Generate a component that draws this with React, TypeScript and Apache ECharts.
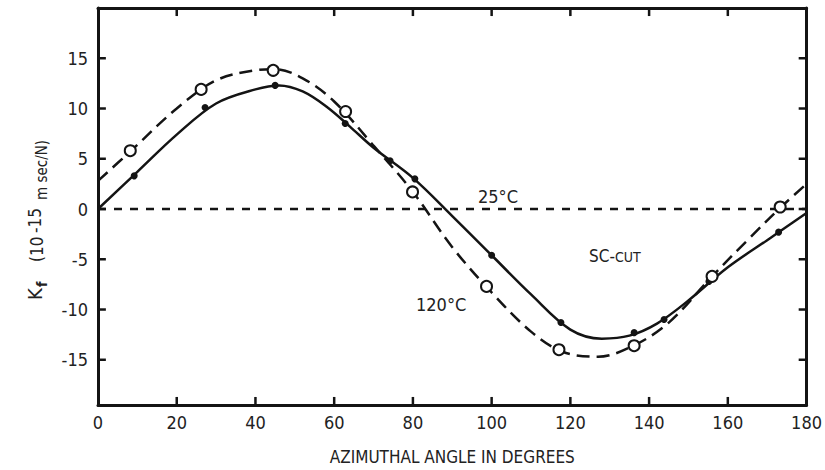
import React, { useEffect, useRef } from "react";
import * as echarts from "echarts";

// Axis ranges and ticks
const X_MIN = 0;
const X_MAX = 180;
const Y_MIN = -19.5;
const Y_MAX = 20;
const xTickValues = [0, 20, 40, 60, 80, 100, 120, 140, 160, 180];
const yTickValues = [-15, -10, -5, 0, 5, 10, 15];

// 25°C curve (solid)
const curveAngle25 = [0, 10, 20, 30, 40, 46, 52, 58, 64, 70, 80, 90, 100, 110, 120, 128, 135, 142, 150, 160, 170, 180];
const curveK25 = [0, 3.7, 7.4, 10.5, 11.9, 12.3, 11.7, 10.2, 8.2, 6.1, 3.1, -0.7, -4.6, -8.5, -12.0, -12.9, -12.6, -11.4, -9.1, -5.8, -3.1, -0.4];

// 25°C measured points (filled dots)
const dotAngle25 = [9.2, 27.2, 45, 62.8, 74.2, 80.5, 100, 117.6, 136.2, 143.8, 155.2, 172.9];
const dotK25 = [3.3, 10.1, 12.3, 8.5, 4.8, 3.0, -4.6, -11.3, -12.3, -11.0, -7.2, -2.3];

// 120°C curve (dashed)
const curveAngle120 = [0, 8.4, 20, 30, 40, 45, 52, 60, 70, 80, 90, 100, 110, 118, 127, 136, 145, 156, 165, 173, 180];
const curveK120 = [2.8, 5.8, 10.0, 12.8, 13.8, 13.9, 13.0, 10.7, 6.3, 1.7, -3.8, -8.3, -12.2, -14.2, -14.7, -13.6, -11.3, -6.7, -3.1, 0.0, 2.5];

// 120°C measured points (open circles)
const circAngle120 = [8.2, 26.2, 44.5, 62.9, 79.9, 98.7, 117.1, 136.2, 156, 173.3];
const circK120 = [5.8, 11.9, 13.8, 9.7, 1.7, -7.7, -14.0, -13.6, -6.7, 0.2];

// Reference line
const zeroLineAngle = [0, 180];
const zeroLineK = [0, 0];

const zip = (a: number[], b: number[]) => a.map((v, i) => [v, b[i]]);

const FONT = "'DejaVu Sans Condensed', 'Liberation Sans Narrow', 'DejaVu Sans', sans-serif";
const INK = "#141414";
const TXT = "#222";
// inward tick length expressed in axis units (about 8 px)
const X_TICK_LEN_UNITS = 0.8;
const Y_TICK_LEN_UNITS = 2.0;

export default function App() {
  const ref = useRef<HTMLDivElement>(null);

  useEffect(() => {
    if (!ref.current) return;
    const chart = echarts.init(ref.current, null, { renderer: "svg" });

    const axisLine = { show: true, onZero: false, lineStyle: { color: INK, width: 3 } };

    const labelText = (text: string, x: number, y: number, fontSize: number, extra: any = {}) => ({
      type: "text",
      x,
      y,
      style: { text, fontSize, fontFamily: FONT, fill: TXT, verticalAlign: "bottom", ...extra },
    });

    const yAxisBase = {
      type: "value",
      min: Y_MIN,
      max: Y_MAX,
      splitNumber: 8,
      axisLine,
      axisTick: { show: false },
      splitLine: { show: false },
    };

    const tickSeries = (pts: number[][]) => ({
      type: "line",
      data: pts,
      symbol: "none",
      silent: true,
      clip: false,
      lineStyle: { color: INK, width: 2.5, type: "solid" },
      z: 6,
    });

    const frameTicks: any[] = [];
    xTickValues.slice(1, -1).forEach((v) => {
      frameTicks.push(tickSeries([[v, Y_MIN], [v, Y_MIN + X_TICK_LEN_UNITS]]));
      frameTicks.push(tickSeries([[v, Y_MAX], [v, Y_MAX - X_TICK_LEN_UNITS]]));
    });
    yTickValues.forEach((v) => {
      frameTicks.push(tickSeries([[X_MIN, v], [X_MIN + Y_TICK_LEN_UNITS, v]]));
      frameTicks.push(tickSeries([[X_MAX, v], [X_MAX - Y_TICK_LEN_UNITS, v]]));
    });

    chart.setOption({
      animation: false,
      backgroundColor: "#ffffff",
      grid: { left: 98, right: 17, top: 8, bottom: 65, containLabel: false },
      xAxis: [
        {
          type: "value",
          position: "bottom",
          min: X_MIN,
          max: X_MAX,
          interval: 20,
          axisLine,
          axisTick: { show: false },
          axisLabel: { customValues: xTickValues, margin: 8, fontSize: 18, fontFamily: FONT, color: TXT },
          splitLine: { show: false },
          name: "AZIMUTHAL ANGLE IN DEGREES",
          nameLocation: "middle",
          nameGap: 43,
          nameTextStyle: { fontSize: 17, fontFamily: FONT, color: TXT },
        },
        {
          type: "value",
          position: "top",
          min: X_MIN,
          max: X_MAX,
          interval: 20,
          axisLine,
          axisTick: { show: false },
          axisLabel: { show: false },
          splitLine: { show: false },
        },
      ],
      yAxis: [
        {
          ...yAxisBase,
          position: "left",
          axisLabel: { customValues: yTickValues, margin: 10, fontSize: 18, fontFamily: FONT, color: TXT },
        },
        {
          ...yAxisBase,
          position: "right",
          axisLabel: { show: false },
        },
      ],
      series: [
        ...frameTicks,
        {
          type: "line",
          data: zip(zeroLineAngle, zeroLineK),
          symbol: "none",
          lineStyle: { color: INK, width: 2.5, type: [8, 8] },
          z: 1,
        },
        {
          name: "25°C",
          type: "line",
          data: zip(curveAngle25, curveK25),
          smooth: 0.35,
          symbol: "none",
          lineStyle: { color: INK, width: 2.5 },
          z: 2,
        },
        {
          name: "120°C",
          type: "line",
          data: zip(curveAngle120, curveK120),
          smooth: 0.35,
          symbol: "none",
          lineStyle: { color: INK, width: 2.5, type: [13, 7] },
          z: 2,
        },
        {
          name: "25°C points",
          type: "scatter",
          data: zip(dotAngle25, dotK25),
          symbol: "circle",
          symbolSize: 7,
          itemStyle: { color: INK, opacity: 1 },
          z: 3,
        },
        {
          name: "120°C points",
          type: "scatter",
          data: zip(circAngle120, circK120),
          symbol: "circle",
          symbolSize: 11,
          itemStyle: { color: "#ffffff", borderColor: INK, borderWidth: 2, opacity: 1 },
          z: 4,
        },
      ],
      graphic: [
        {
          type: "group",
          x: 45,
          y: 300,
          rotation: Math.PI / 2,
          children: [
            labelText("K", 0, 0, 20),
            labelText("f", 13, 4, 14, { fontWeight: "bold" }),
            labelText("(10", 38, 0, 17),
            labelText("-15", 67, -2, 17),
            labelText("m sec/N)", 100, 4, 15),
          ],
        },
        {
          type: "text",
          x: 478,
          y: 187,
          style: { text: "25°C", fontSize: 18, fontFamily: FONT, fill: TXT },
        },
        {
          type: "text",
          x: 589,
          y: 247,
          style: {
            text: "{a|SC-}{b|CUT}",
            rich: {
              a: { fontSize: 17, fontFamily: FONT, fill: TXT, verticalAlign: "bottom" },
              b: { fontSize: 14, fontFamily: FONT, fill: TXT, verticalAlign: "bottom" },
            },
          },
        },
        {
          type: "text",
          x: 416,
          y: 295,
          style: { text: "120°C", fontSize: 18, fontFamily: FONT, fill: TXT },
        },
      ],
    });

    return () => chart.dispose();
  }, []);

  return (
    <div
      ref={ref}
      style={{ position: "fixed", left: 0, top: 0, width: 825, height: 470, background: "#fff" }}
    />
  );
}
